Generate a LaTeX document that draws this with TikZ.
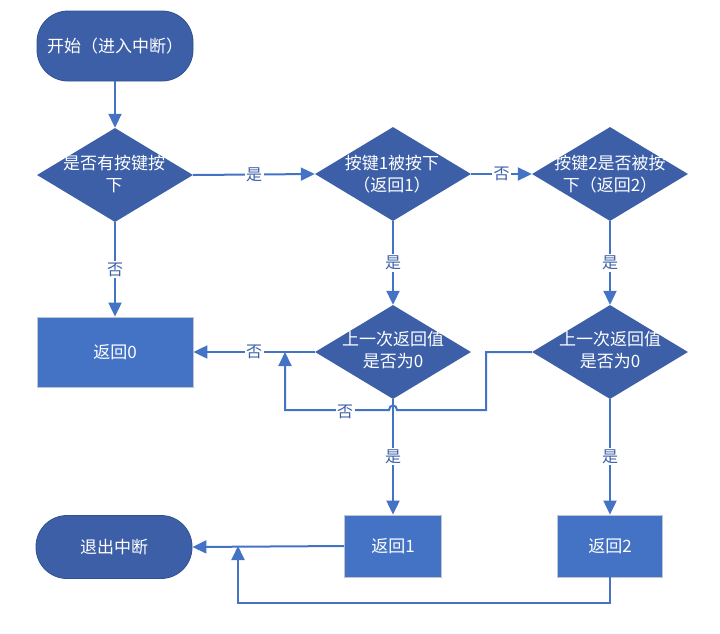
\documentclass[tikz,border=0pt]{standalone}
\usepackage{fontspec}
\setmainfont{Noto Sans CJK SC}
\usetikzlibrary{arrows.meta,shapes.geometric}
\definecolor{darkb}{HTML}{3C5FA8}
\definecolor{medb}{HTML}{4472C4}
\definecolor{lineb}{HTML}{4472C4}
\definecolor{bord}{HTML}{2F528F}
\definecolor{gbord}{HTML}{BFC5D0}
\begin{document}
\begin{tikzpicture}[x=1pt,y=-1pt,
  term/.style={rectangle, rounded corners=31pt, fill=darkb, draw=bord, line width=0.8pt, minimum width=156pt, minimum height=68pt, text=white, font=\fontsize{17}{22}\selectfont},
  dia/.style={diamond, fill=darkb, minimum width=156pt, minimum height=94pt, inner sep=0pt},
  dtext/.style={text=white, align=center, font=\fontsize{17}{22}\selectfont, inner sep=0pt},
  box/.style={rectangle, fill=medb, draw=gbord, line width=0.8pt, text=white, font=\fontsize{17}{22}\selectfont},
  arr/.style={draw=lineb, line width=2pt, -{Triangle[length=14pt,width=13pt]}},
  ln/.style={draw=lineb, line width=2pt},
  lab/.style={fill=white, text=darkb, inner sep=1.5pt, font=\fontsize{16}{18}\selectfont}
]
\useasboundingbox (0,0) rectangle (720,633);

\node[term, minimum height=70pt] (start) at (115,46) {开始（进入中断）};
\node[dia] (d1) at (115,175) {};
\node[dtext] (d1t) at (114,174) {是否有按键按\\下};
\node[dia] (d2) at (393,174) {};
\node[dtext] (d2t) at (392,174) {按键1被按下\\（返回1）};
\node[dia] (d3) at (610,174) {};
\node[dtext] (d3t) at (610,174) {按键2是否被按\\下（返回2）};
\node[dia] (d4) at (393,352) {};
\node[dtext] (d4t) at (393,350) {上一次返回值\\是否为0};
\node[dia] (d5) at (610,352) {};
\node[dtext] (d5t) at (610,350) {上一次返回值\\是否为0};
\node[box, minimum width=156pt, minimum height=70pt] (r0) at (115,352) {返回0};
\node[term, minimum height=63pt] (end) at (114,547) {退出中断};
\node[box, minimum width=97pt, minimum height=62pt] (r1) at (393,546) {返回1};
\node[box, minimum width=105pt, minimum height=62pt] (r2) at (610,546) {返回2};

\coordinate (lpA) at (486,352);
\coordinate (lpB) at (486,410);
\coordinate (lpC) at (285,410);
\coordinate (lpD) at (285,352);
\coordinate (btA) at (610,603);
\coordinate (btB) at (238,603);
\coordinate (btC) at (238,546);

\draw[arr] (start) -- (d1);
\draw[arr] (d1.east) -- (d2.west) node[midway, lab] {是};
\draw[arr] (d2.east) -- (d3.west) node[midway, lab] {否};
\draw[arr] (d1.south) -- (r0.north) node[midway, lab] {否};
\draw[arr] (d2.south) -- (d4.north) node[midway, lab] {是};
\draw[arr] (d3.south) -- (d5.north) node[midway, lab] {是};
\draw[arr] (d4.west) -- (r0.east) node[midway, lab] {否};
\draw[arr] (d4.south) -- (r1.north) node[midway, lab] {是};
\draw[arr] (d5.south) -- (r2.north) node[midway, lab] {是};
\draw[arr] (r1.west) -- (end.east);
\draw[arr] (d5.west) -- (lpA) -- (lpB) -- (397,410) .. controls (397,404) and (389,404) .. (389,410) -- (lpC) -- (lpD);
\node[lab] (lpL) at (345,412) {否};
\draw[arr] (r2.south) -- (btA) -- (btB) -- (btC);
\end{tikzpicture}
\end{document}
